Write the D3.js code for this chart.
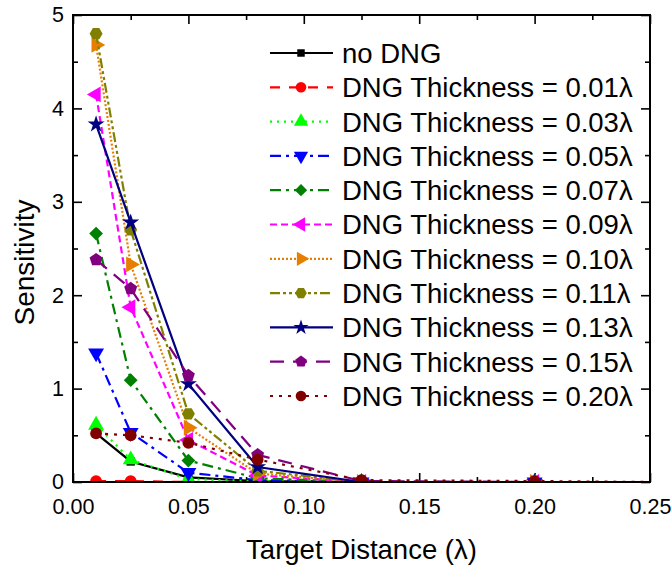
<!DOCTYPE html>
<html>
<head>
<meta charset="utf-8">
<script src="https://cdn.jsdelivr.net/npm/d3@7"></script>
<style>
  html, body { margin: 0; padding: 0; background: #fff; }
  svg { display: block; font-family: Arial, "Liberation Sans", sans-serif; }
</style>
</head>
<body>
<svg id="chart" width="672" height="571"></svg>
<script>
// Target distance (in wavelengths) at which sensitivity was evaluated
const distances = [0.01, 0.025, 0.05, 0.08, 0.125, 0.2, 0.25];

// Series labels
const seriesNames = [
  "no DNG",
  "DNG Thickness = 0.01\u03bb",
  "DNG Thickness = 0.03\u03bb",
  "DNG Thickness = 0.05\u03bb",
  "DNG Thickness = 0.07\u03bb",
  "DNG Thickness = 0.09\u03bb",
  "DNG Thickness = 0.10\u03bb",
  "DNG Thickness = 0.11\u03bb",
  "DNG Thickness = 0.13\u03bb",
  "DNG Thickness = 0.15\u03bb",
  "DNG Thickness = 0.20\u03bb"
];

// Sensitivity values, one array per series
const noDNG   = [0.52, 0.22, 0.05, 0.01, 0.0, 0.0, 0.0];
const t001    = [0.01, 0.01, 0.0, 0.0, 0.0, 0.0, 0.0];
const t003    = [0.61, 0.24, 0.03, 0.01, 0.0, 0.0, 0.0];
const t005    = [1.38, 0.53, 0.10, 0.02, 0.0, 0.0, 0.0];
const t007    = [2.66, 1.09, 0.23, 0.04, 0.0, 0.0, 0.0];
const t009    = [4.15, 1.87, 0.45, 0.07, 0.0, 0.0, 0.0];
const t010    = [4.68, 2.33, 0.58, 0.09, 0.0, 0.0, 0.0];
const t011    = [4.80, 2.70, 0.73, 0.12, 0.0, 0.0, 0.0];
const t013    = [3.83, 2.78, 1.05, 0.16, 0.0, 0.0, 0.0];
const t015    = [2.38, 2.07, 1.14, 0.29, 0.01, 0.0, 0.0];
const t020    = [0.52, 0.50, 0.42, 0.24, 0.02, 0.01, 0.0];

const seriesValues = [noDNG, t001, t003, t005, t007, t009, t010, t011, t013, t015, t020];

// Axis ticks
const xTicks = [0.00, 0.05, 0.10, 0.15, 0.20, 0.25];
const yTicks = [0, 1, 2, 3, 4, 5];

// Custom marker shapes
const pentagon = {
  draw(ctx, size) {
    const r = Math.sqrt(size / 2.38);
    for (let i = 0; i < 5; i++) {
      const a = -Math.PI / 2 + i * 2 * Math.PI / 5;
      const px = r * Math.cos(a), py = r * Math.sin(a);
      i ? ctx.lineTo(px, py) : ctx.moveTo(px, py);
    }
    ctx.closePath();
  }
};
const hexagon = {
  draw(ctx, size) {
    const r = Math.sqrt(size / 2.6);
    for (let i = 0; i < 6; i++) {
      const a = i * Math.PI / 3;
      const px = r * Math.cos(a), py = r * Math.sin(a);
      i ? ctx.lineTo(px, py) : ctx.moveTo(px, py);
    }
    ctx.closePath();
  }
};

// Visual style per series: colour, dash pattern, marker
const styles = [
  { color: "#000000", dash: null,            sym: d3.symbolSquare,   size: 70,  rot: 0 },
  { color: "#ff0000", dash: "10,9",          sym: d3.symbolCircle,   size: 110, rot: 0 },
  { color: "#00ff00", dash: "2,5",           sym: d3.symbolTriangle, size: 110, rot: 0 },
  { color: "#0000ff", dash: "11,5,3,5",      sym: d3.symbolTriangle, size: 110, rot: 180 },
  { color: "#008000", dash: "11,5,3,5",      sym: d3.symbolSquare,   size: 95,  rot: 45 },
  { color: "#ff00ff", dash: "7,4",           sym: d3.symbolTriangle, size: 110, rot: -90 },
  { color: "#e67e00", dash: "2,2",           sym: d3.symbolTriangle, size: 110, rot: 90 },
  { color: "#808000", dash: "10,3,3,3,3,3",  sym: hexagon,           size: 110, rot: 0 },
  { color: "#000080", dash: null,            sym: d3.symbolStar,     size: 90,  rot: 0 },
  { color: "#800080", dash: "14,9",          sym: pentagon,          size: 110, rot: 0 },
  { color: "#800000", dash: "3,6",           sym: d3.symbolCircle,   size: 110, rot: 0 }
];

const svg = d3.select("#chart");
const margin = { left: 73, right: 22, top: 15, bottom: 89 };
const W = 672, H = 571;
const plotW = W - margin.left - margin.right;
const plotH = H - margin.top - margin.bottom;

const x = d3.scaleLinear().domain([0, 0.25]).range([margin.left, margin.left + plotW]);
const y = d3.scaleLinear().domain([0, 5]).range([margin.top + plotH, margin.top]);

svg.append("defs").append("clipPath").attr("id", "plotClip")
  .append("rect")
  .attr("x", margin.left).attr("y", margin.top - 10)
  .attr("width", plotW).attr("height", plotH + 10);

// Axes with inward ticks: majors from the tick arrays, minors halfway between
const xMinor = d3.range(0.025, 0.25, 0.05);
const yMinor = d3.range(0.5, 5, 1);
const FONT = "Arial, 'Liberation Sans', sans-serif";

function tickAxis(axisGen, transform) {
  const g = svg.append("g").attr("transform", transform).call(axisGen);
  g.select(".domain").remove();
  g.selectAll("line").attr("stroke", "#000").attr("stroke-width", 1.6);
  return g;
}

// bottom
const bx = tickAxis(d3.axisBottom(x).tickValues(xTicks).tickSizeInner(-9).tickSizeOuter(0)
  .tickPadding(17).tickFormat(d3.format(".2f")), `translate(0,${margin.top + plotH})`);
bx.selectAll("text").attr("font-size", 21.5).attr("fill", "#000").attr("font-family", FONT);
tickAxis(d3.axisBottom(x).tickValues(xMinor).tickSizeInner(-5).tickSizeOuter(0).tickFormat(""),
  `translate(0,${margin.top + plotH})`);
// top
tickAxis(d3.axisTop(x).tickValues(xTicks).tickSizeInner(-9).tickSizeOuter(0).tickFormat(""),
  `translate(0,${margin.top})`);
tickAxis(d3.axisTop(x).tickValues(xMinor).tickSizeInner(-5).tickSizeOuter(0).tickFormat(""),
  `translate(0,${margin.top})`);
// left
const ly = tickAxis(d3.axisLeft(y).tickValues(yTicks).tickSizeInner(-9).tickSizeOuter(0)
  .tickPadding(9).tickFormat(d3.format("d")), `translate(${margin.left},0)`);
ly.selectAll("text").attr("font-size", 21.5).attr("fill", "#000").attr("font-family", FONT);
tickAxis(d3.axisLeft(y).tickValues(yMinor).tickSizeInner(-5).tickSizeOuter(0).tickFormat(""),
  `translate(${margin.left},0)`);
// right
tickAxis(d3.axisRight(y).tickValues(yTicks).tickSizeInner(-9).tickSizeOuter(0).tickFormat(""),
  `translate(${margin.left + plotW},0)`);
tickAxis(d3.axisRight(y).tickValues(yMinor).tickSizeInner(-5).tickSizeOuter(0).tickFormat(""),
  `translate(${margin.left + plotW},0)`);

// Data series
const line = d3.line().x(d => x(d[0])).y(d => y(d[1]));
const plot = svg.append("g").attr("clip-path", "url(#plotClip)");

seriesValues.forEach((vals, i) => {
  const st = styles[i];
  const pts = distances.map((d, k) => [d, vals[k]]);
  const g = plot.append("g");
  g.append("path")
    .attr("d", line(pts))
    .attr("fill", "none")
    .attr("stroke", st.color)
    .attr("stroke-width", 2.2)
    .attr("stroke-dasharray", st.dash);
  g.selectAll("path.m").data(pts.filter(p => p[0] < 0.25)).join("path")
    .attr("class", "m")
    .attr("d", d3.symbol().type(st.sym).size(st.size))
    .attr("transform", p => `translate(${x(p[0])},${y(p[1])}) rotate(${st.rot})`)
    .attr("fill", st.color);
});

// Frame
svg.append("rect")
  .attr("x", margin.left).attr("y", margin.top)
  .attr("width", plotW).attr("height", plotH)
  .attr("fill", "none").attr("stroke", "#000").attr("stroke-width", 2);

// Legend
const legX = 270, legY0 = 53, legDy = 34.3;
const leg = svg.append("g");
seriesNames.forEach((name, i) => {
  const st = styles[i];
  const gy = legY0 + i * legDy;
  leg.append("line")
    .attr("x1", legX).attr("x2", legX + 63)
    .attr("y1", gy).attr("y2", gy)
    .attr("stroke", st.color).attr("stroke-width", 2.2)
    .attr("stroke-dasharray", st.dash);
  leg.append("path")
    .attr("d", d3.symbol().type(st.sym).size(st.size * 0.8))
    .attr("transform", `translate(${legX + 31},${gy}) rotate(${st.rot})`)
    .attr("fill", st.color);
  leg.append("text")
    .attr("x", legX + 72).attr("y", gy)
    .attr("dy", "0.36em")
    .attr("font-size", 27.5)
    .attr("fill", "#000")
    .text(name);
});

// Axis titles
svg.append("text")
  .attr("x", margin.left + plotW / 2).attr("y", 559)
  .attr("text-anchor", "middle")
  .attr("font-size", 27.5)
  .text("Target Distance (\u03bb)");

svg.append("text")
  .attr("transform", `translate(34,${margin.top + plotH / 2 + 14}) rotate(-90)`)
  .attr("text-anchor", "middle")
  .attr("font-size", 28)
  .text("Sensitivity");
</script>
</body>
</html>
